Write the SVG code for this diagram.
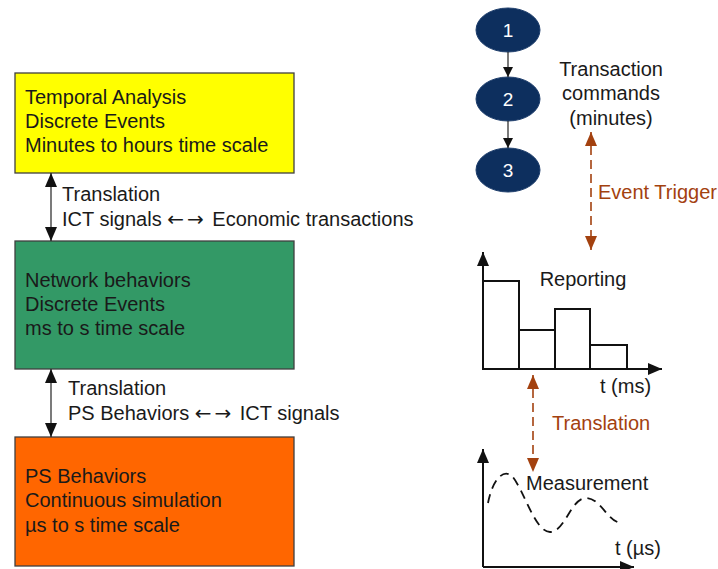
<svg xmlns="http://www.w3.org/2000/svg" width="718" height="569" viewBox="0 0 718 569">
  <style>
    text { font-family: "Liberation Sans", Arial, sans-serif; font-size: 20px; fill: #1a1a1a; }
    .arr { font-family: "DejaVu Sans", sans-serif; font-size: 20px; letter-spacing: 3px; }
    .box { stroke: #404040; stroke-width: 1.3; }
    .conn { stroke: #222; stroke-width: 1.2; fill: none; }
    .brown { stroke: #A3410F; stroke-width: 1.6; stroke-dasharray: 9 5; fill: none; }
    .btxt { fill: #A3410F; }
    .node { fill: #0D2F5E; stroke: #1E3E6C; stroke-width: 1; }
    .num { fill: #ffffff; text-anchor: middle; font-size: 19px; }
    .axis { stroke: #111; stroke-width: 2; fill: none; }
    .bar { stroke: #111; stroke-width: 2; fill: #fff; }
    .wave { stroke: #111; stroke-width: 1.8; stroke-dasharray: 9 6; fill: none; }
  </style>
  <defs>
    <marker id="head" viewBox="0 0 10 10" refX="10" refY="5" markerWidth="10" markerHeight="10" markerUnits="userSpaceOnUse" orient="auto-start-reverse">
      <path d="M0,0 L10,5 L0,10 Z" fill="#111"/>
    </marker>
    <marker id="bighead" viewBox="0 0 14 12" refX="14" refY="6" markerWidth="14" markerHeight="12" markerUnits="userSpaceOnUse" orient="auto-start-reverse">
      <path d="M0,0 L14,6 L0,12 Z" fill="#111"/>
    </marker>
    <marker id="brownhead" viewBox="0 0 14 12" refX="14" refY="6" markerWidth="14" markerHeight="12" markerUnits="userSpaceOnUse" orient="auto-start-reverse">
      <path d="M0,0 L14,6 L0,12 Z" fill="#A3410F"/>
    </marker>
  </defs>

  <!-- Left stack of analysis layers -->
  <g id="temporal">
    <rect class="box" x="15" y="73" width="279" height="100" fill="#FFFF00"/>
    <text x="25" y="104">Temporal Analysis</text>
    <text x="25" y="128">Discrete Events</text>
    <text x="25" y="152">Minutes to hours time scale</text>
  </g>
  <g id="network">
    <rect class="box" x="15" y="241" width="279" height="128" fill="#339966"/>
    <text x="25" y="287">Network behaviors</text>
    <text x="25" y="311">Discrete Events</text>
    <text x="25" y="335">ms to s time scale</text>
  </g>
  <g id="ps">
    <rect class="box" x="15" y="437" width="279" height="129" fill="#FF6600"/>
    <text x="25" y="483">PS Behaviors</text>
    <text x="25" y="507">Continuous simulation</text>
    <text x="25" y="532">µs to s time scale</text>
  </g>

  <!-- Right side: transaction sequence -->
  <g id="n1">
    <ellipse class="node" cx="508" cy="30" rx="32" ry="22"/>
    <text class="num" x="508" y="37">1</text>
  </g>
  <g id="n2">
    <ellipse class="node" cx="508" cy="99" rx="32" ry="22"/>
    <text class="num" x="508" y="106">2</text>
  </g>
  <g id="n3">
    <ellipse class="node" cx="508" cy="170" rx="32" ry="22"/>
    <text class="num" x="508" y="177">3</text>
  </g>
  <g id="commands">
    <text x="611" y="76" text-anchor="middle">Transaction</text>
    <text x="611" y="100" text-anchor="middle">commands</text>
    <text x="611" y="125" text-anchor="middle">(minutes)</text>
  </g>

  <!-- Reporting chart -->
  <g id="reporting">
    <rect class="bar" x="483" y="281" width="36" height="88"/>
    <rect class="bar" x="519" y="330" width="36" height="39"/>
    <rect class="bar" x="555" y="309" width="35" height="60"/>
    <rect class="bar" x="590" y="345" width="37" height="24"/>
    <path class="axis" d="M483,369 V252" marker-end="url(#bighead)"/>
    <path class="axis" d="M483,369 H662" marker-end="url(#bighead)"/>
    <text x="583" y="286" text-anchor="middle">Reporting</text>
    <text x="600" y="393">t (ms)</text>
  </g>

  <!-- Measurement chart -->
  <g id="measurement">
    <path class="axis" d="M483,567 V449" marker-end="url(#bighead)"/>
    <path class="axis" d="M483,567 H634" marker-end="url(#bighead)"/>
    <path class="wave" d="M488,503 C492,482 502,468 512,476 C524,490 535,532 550,532 C565,532 571,498 586,498 C601,498 608,523 622,523"/>
    <text x="526" y="490">Measurement</text>
    <text x="615" y="555">t (µs)</text>
  </g>

  <!-- Connectors -->
  <g id="connectors">
    <path class="conn" d="M51,173 V241" marker-start="url(#bighead)" marker-end="url(#bighead)"/>
    <text x="62" y="201">Translation</text>
    <text x="62" y="226">ICT signals <tspan class="arr">←→</tspan> Economic transactions</text>

    <path class="conn" d="M51,369 V437" marker-start="url(#bighead)" marker-end="url(#bighead)"/>
    <text x="68" y="395">Translation</text>
    <text x="68" y="420">PS Behaviors <tspan class="arr">←→</tspan> ICT signals</text>

    <path class="conn" d="M508,52 V77" marker-end="url(#head)"/>
    <path class="conn" d="M508,121 V148" marker-end="url(#head)"/>

    <path class="brown" d="M591,132 V250" marker-start="url(#brownhead)" marker-end="url(#brownhead)"/>
    <text class="btxt" x="598" y="199">Event Trigger</text>

    <path class="brown" d="M533,375 V472" marker-start="url(#brownhead)" marker-end="url(#brownhead)"/>
    <text class="btxt" x="552" y="430">Translation</text>
  </g>
</svg>
